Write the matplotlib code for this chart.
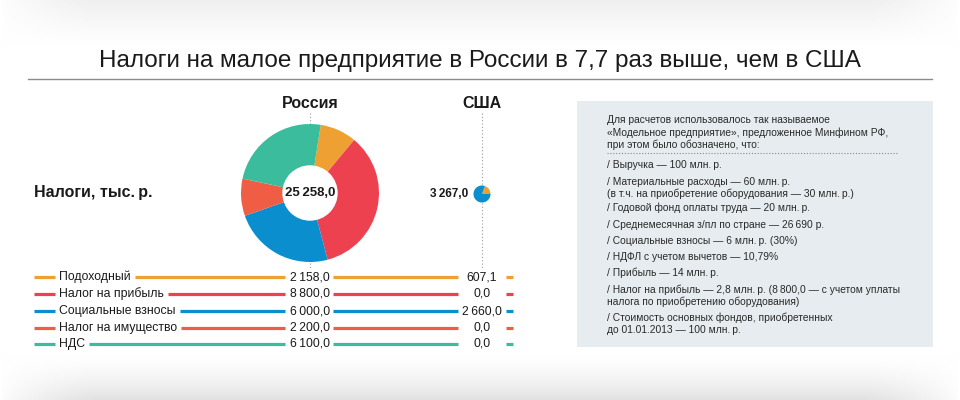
import numpy as np
import matplotlib
matplotlib.use("Agg")
import matplotlib.pyplot as plt
from matplotlib.patches import Rectangle, Circle

# ---------------- data ----------------
title = "Налоги на малое предприятие в России в 7,7 раз выше, чем в США"
categories = ["Подоходный", "Налог на прибыль", "Социальные взносы",
              "Налог на имущество", "НДС"]
russia = [2158.0, 8800.0, 6000.0, 2200.0, 6100.0]
usa = [607.1, 0.0, 2660.0, 0.0, 0.0]
russia_total = 25258.0
usa_total = 3267.0
colors = ["#EEA033", "#EE4150", "#0A8ECE", "#EF5E44", "#3BBC9C"]
col_names = ["Россия", "США"]
y_label = "Налоги, тыс.\u2009р."
note_head = ["Для расчетов использовалось так называемое",
             "«Модельное предприятие», предложенное Минфином РФ,",
             "при этом было обозначено, что:"]
notes = [
    ["/ Выручка — 100 млн.\u2009р."],
    ["/ Материальные расходы — 60 млн.\u2009р.",
     "(в т.ч. на приобретение оборудования — 30 млн.\u2009р.)"],
    ["/ Годовой фонд оплаты труда — 20 млн.\u2009р."],
    ["/ Среднемесячная з/пл по стране — 26\u2009690 р."],
    ["/ Социальные взносы — 6 млн.\u2009р. (30%)"],
    ["/ НДФЛ с учетом вычетов — 10,79%"],
    ["/ Прибыль — 14 млн.\u2009р."],
    ["/ Налог на прибыль — 2,8 млн.\u2009р. (8\u2009800,0 — с учетом уплаты",
     "налога по приобретению оборудования)"],
    ["/ Стоимость основных фондов, приобретенных",
     "до 01.01.2013 — 100 млн.\u2009р."],
]


def fmt(v):
    return f"{v:,.1f}".replace(",", "\u2009").replace(".", ",")


plt.rcParams["font.family"] = ["Liberation Sans", "DejaVu Sans"]

W, H = 960, 400
fig = plt.figure(figsize=(9.6, 4.0), dpi=100)
ax = fig.add_axes([0, 0, 1, 1])


def Y(y):
    return H - y


# background with soft grey shadows at top & bottom
xx = np.linspace(0, W, 480)
yy = np.linspace(0, H, 200)
X, YY = np.meshgrid(xx, yy)
gx = np.clip(np.minimum(X, W - X) / 90.0, 0, 1) ** 0.7
top = np.clip(1 - YY / 45.0, 0, 1) ** 1.5
bot = np.clip((YY - 355) / 45.0, 0, 1) ** 1.2
dark = 0.11 * top * gx + 0.06 * bot * gx
img = 1 - dark
rgb = np.clip(np.dstack([img, img, img * 1.003]), 0, 1)
ax.imshow(rgb, extent=[0, W, H, 0], zorder=0, aspect="auto")

# title & rule
ax.text(480, Y(61), title, ha="center", va="center", fontsize=17.5,
        color="#1a1a1a", zorder=3)
ax.plot([28, 932], [Y(79), Y(79)], color="#8c8c8c", lw=1.0, zorder=3)

# column headers and dotted guides
rx, ux = 310, 482
cy = 193
ax.text(rx, Y(103), col_names[0], ha="center", va="center", fontsize=11.5,
        fontweight="bold", color="#1a1a1a", zorder=3)
ax.text(ux, Y(103), col_names[1], ha="center", va="center", fontsize=11.5,
        fontweight="bold", color="#1a1a1a", zorder=3)
for x in (rx, ux):
    ax.plot([x, x], [Y(113), Y(269)], color="#9a9a9a", lw=0.8,
            ls=(0, (1, 2)), zorder=2)

ax.text(34, Y(193), y_label, ha="left", va="center", fontsize=11.5,
        fontweight="bold", color="#1a1a1a", zorder=3)

# Russia donut
R = 69
r_in = 27
ax.pie(russia, colors=colors, startangle=81, counterclock=False,
       center=(rx, Y(cy)), radius=R, frame=True,
       wedgeprops=dict(width=R - r_in, linewidth=0, zorder=4))
ax.add_patch(Circle((rx, Y(cy)), r_in, color="white", zorder=5))
ax.text(rx, Y(cy), fmt(russia_total), ha="center", va="center", fontsize=9.5,
        fontweight="bold", color="#1a1a1a", zorder=6)

# USA pie
us_vals = [v for v in usa if v > 0]
us_cols = [c for v, c in zip(usa, colors) if v > 0]
ax.pie(us_vals, colors=us_cols, startangle=70, counterclock=False,
       center=(ux, Y(cy + 1)), radius=8.5, frame=True,
       wedgeprops=dict(linewidth=0, zorder=4))
ax.text(ux - 14, Y(cy + 1), fmt(usa_total), ha="right", va="center",
        fontsize=8.5, fontweight="bold", color="#1a1a1a", zorder=6)

ax.set_xlim(0, W)
ax.set_ylim(0, H)
ax.set_aspect("equal")
ax.axis("off")

# legend rows
fig.canvas.draw()
renderer = fig.canvas.get_renderer()
row_y = [277, 294, 311, 328, 344]
lw = 2.3
for cat, rv, uv, c, yy_ in zip(categories, russia, usa, colors, row_y):
    yv = Y(yy_)
    ax.plot([34, 55], [yv, yv], color=c, lw=lw, solid_capstyle="butt", zorder=3)
    t = ax.text(59, yv, cat, ha="left", va="center", fontsize=8.8,
                color="#1a1a1a", zorder=3)
    bb = t.get_window_extent(renderer)
    x_end = bb.x1 * W / fig.bbox.width
    ax.plot([x_end + 4, 285], [yv, yv], color=c, lw=lw, solid_capstyle="butt", zorder=3)
    ax.text(rx, yv, fmt(rv), ha="center", va="center", fontsize=8.8,
            color="#1a1a1a", zorder=3)
    ax.plot([333, 458], [yv, yv], color=c, lw=lw, solid_capstyle="butt", zorder=3)
    ax.text(ux, yv, fmt(uv), ha="center", va="center", fontsize=8.8,
            color="#1a1a1a", zorder=3)
    ax.plot([506, 513], [yv, yv], color=c, lw=lw, solid_capstyle="butt", zorder=3)

# notes box
ax.add_patch(Rectangle((577, Y(347)), 356, 246, color="#e6ecef", lw=0, zorder=1))
for s, hy in zip(note_head, [120, 133, 145]):
    ax.text(607, Y(hy), s, ha="left", va="center", fontsize=7.4,
            color="#2a2a2a", zorder=3)
ax.plot([607, 898], [Y(153), Y(153)], color="#8a8a8a", lw=0.8,
        ls=(0, (1, 1.6)), zorder=3)
note_y = [165, 182, 208, 225, 241, 257, 273, 290, 318]
for lines, ny in zip(notes, note_y):
    for k, s in enumerate(lines):
        ax.text(607, Y(ny + 12 * k), s, ha="left", va="center",
                fontsize=7.4, color="#2a2a2a", zorder=3)

fig.savefig("out.png", dpi=100)
